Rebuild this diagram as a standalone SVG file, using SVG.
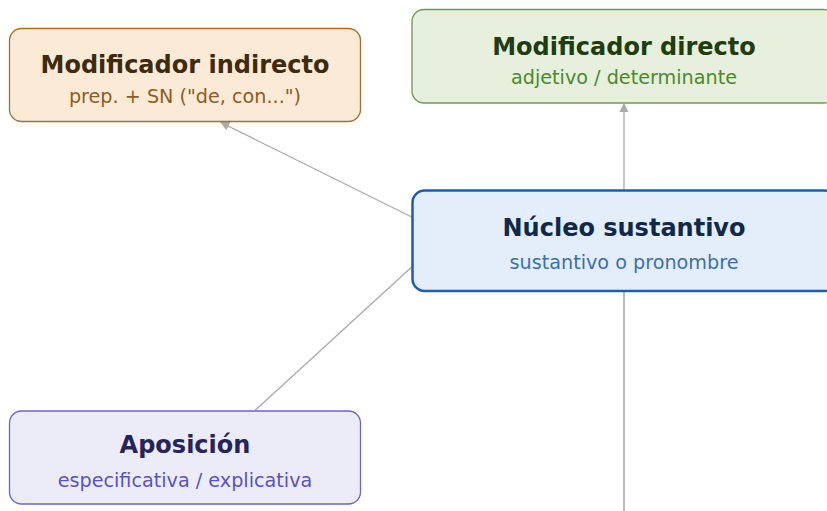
<svg xmlns="http://www.w3.org/2000/svg" width="827" height="511" viewBox="0 0 827 511">
<defs>
<marker id="arr" viewBox="0 0 10 10" refX="9" refY="5" markerWidth="7" markerHeight="7" orient="auto-start-reverse">
<path d="M0,0 L10,5 L0,10 z" fill="#aaaaaa"/>
</marker>
<style>
.t{font-family:"DejaVu Sans","Liberation Sans",sans-serif;font-weight:bold;font-size:24px;text-anchor:middle}
.s{font-family:"DejaVu Sans","Liberation Sans",sans-serif;font-size:19.2px;text-anchor:middle}
.c{stroke:#aaaaaa;stroke-width:1.3;fill:none}
</style>
</defs>
<rect width="827" height="511" fill="#ffffff"/>
<g id="connectors">
<line class="c" x1="411.7" y1="217" x2="221" y2="122.5" marker-end="url(#arr)"/>
<line class="c" x1="624" y1="190" x2="624" y2="104" marker-end="url(#arr)"/>
<line class="c" x1="411.7" y1="267" x2="255" y2="410.5"/>
<line x1="624" y1="292" x2="624" y2="511" stroke="#bdbdbd" stroke-width="2"/>
</g>
<g id="mod-indirecto">
<rect x="9.5" y="28.5" width="351" height="93" rx="12" fill="#fbead6" stroke="#a66f2e" stroke-width="1.3"/>
<text class="t" x="185" y="73" fill="#3f2a0e">Modificador indirecto</text>
<text class="s" x="185" y="103" fill="#8d5c22">prep. + SN ("de, con...")</text>
</g>
<g id="mod-directo">
<rect x="412" y="9.5" width="424" height="93.5" rx="12" fill="#e6f0dc" stroke="#6d9b4c" stroke-width="1.3"/>
<text class="t" x="624" y="55" fill="#1f3d0f">Modificador directo</text>
<text class="s" x="624" y="84" fill="#4a8a2a">adjetivo / determinante</text>
</g>
<g id="nucleo">
<rect x="412.5" y="190.5" width="424" height="100.5" rx="12" fill="#e3eefa" stroke="#1f5ea8" stroke-width="2.5"/>
<text class="t" x="624" y="236" fill="#10284a">Núcleo sustantivo</text>
<text class="s" x="624" y="269" fill="#3a70b0">sustantivo o pronombre</text>
</g>
<g id="aposicion">
<rect x="9.5" y="411" width="351" height="93" rx="12" fill="#ececf9" stroke="#6c64c8" stroke-width="1.3"/>
<text class="t" x="185" y="453" fill="#27245a">Aposición</text>
<text class="s" x="185" y="487" fill="#5a52c2">especificativa / explicativa</text>
</g>
</svg>
